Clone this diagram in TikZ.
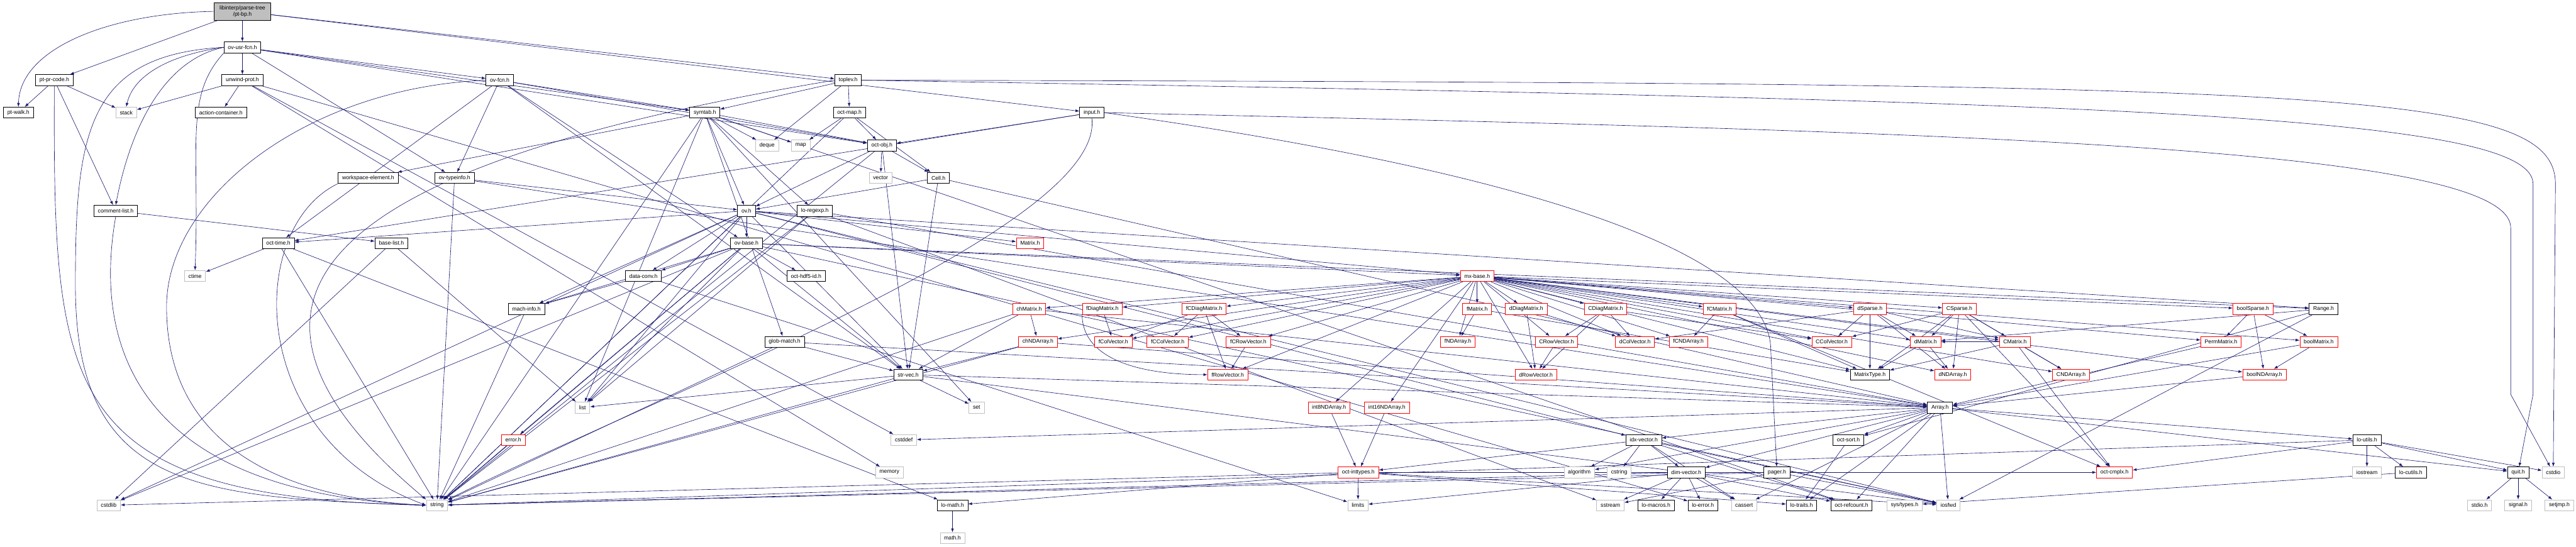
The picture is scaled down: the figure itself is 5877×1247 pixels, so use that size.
\documentclass[tikz,border=0pt]{standalone}
\usepackage{fontspec}
\setmainfont{Liberation Sans}
\usetikzlibrary{arrows.meta}
\pgfdeclarelayer{edges}
\pgfsetlayers{edges,main}
\definecolor{edgeblue}{HTML}{191970}
\definecolor{sysgray}{HTML}{BFBFBF}

\begin{document}
\begin{tikzpicture}[x=1pt, y=-1pt,
    every node/.style={font=\fontsize{12.5}{14.5}\selectfont},
    box/.style={
        draw=black,
        fill=white,
        line width=1.1pt,
        minimum height=25pt,
        inner xsep=9pt,
        inner ysep=2pt
    },
    sysbox/.style={box, draw=sysgray},
    redbox/.style={box, draw=red},
    rootbox/.style={box, fill=sysgray, align=center, minimum height=40pt, minimum width=130pt},
    arrow/.style={-{Latex[length=9pt,width=6.5pt]}, draw=edgeblue, line width=0.9pt}
]

\useasboundingbox (0,0) rectangle (5877,1247);

% rank 0-2
\node[rootbox] (ptbp) at (553,26) {libinterp/parse-tree\\/pt-bp.h};
\node[box] (ovusrfcn) at (553,108) {ov-usr-fcn.h};
\node[box] (ptprcode) at (124,183) {pt-pr-code.h};
\node[box] (unwindprot) at (553,183) {unwind-prot.h};
\node[box] (ovfcn) at (1140,183) {ov-fcn.h};
\node[box] (toplev) at (1935,183) {toplev.h};

% rank 3-4
\node[box] (ptwalk) at (42,257) {pt-walk.h};
\node[sysbox] (stack) at (288,257) {stack};
\node[box] (actcont) at (504,257) {action-container.h};
\node[box] (symtab) at (1608,257) {symtab.h};
\node[box] (octmap) at (1938,257) {oct-map.h};
\node[box] (input) at (2491,257) {input.h};
\node[sysbox] (deque) at (1750,332) {deque};
\node[sysbox] (map) at (1827,332) {map};
\node[box] (octobj) at (2012,332) {oct-obj.h};

% rank 5-8
\node[box] (wselem) at (840,406) {workspace-element.h};
\node[box] (ovtypeinfo) at (1037,406) {ov-typeinfo.h};
\node[sysbox] (vector) at (2009,406) {vector};
\node[box] (cell) at (2141,406) {Cell.h};
\node[box] (cmtlist) at (264,481) {comment-list.h};
\node[box] (ovh) at (1703,481) {ov.h};
\node[box] (loregexp) at (1859,481) {lo-regexp.h};
\node[box] (octtime) at (635,555) {oct-time.h};
\node[box] (baselist) at (893,555) {base-list.h};
\node[box] (ovbase) at (1703,555) {ov-base.h};
\node[redbox] (matrix) at (2350,555) {Matrix.h};
\node[sysbox] (ctime) at (445,630) {ctime};
\node[box] (dataconv) at (1468,630) {data-conv.h};
\node[box] (octhdf) at (1839,630) {oct-hdf5-id.h};
\node[redbox] (mxbase) at (3370,630) {mx-base.h};

% rank 9
\node[box] (machinfo) at (1201,705) {mach-info.h};
\node[redbox] (chmatrix) at (2348,705) {chMatrix.h};
\node[redbox] (fdiag) at (2515,705) {fDiagMatrix.h};
\node[redbox] (fcdiag) at (2747,705) {fCDiagMatrix.h};
\node[redbox] (fmatrix) at (3370,705) {fMatrix.h};
\node[redbox] (ddiag) at (3482,705) {dDiagMatrix.h};
\node[redbox] (cdiag) at (3663,705) {CDiagMatrix.h};
\node[redbox] (fcmatrix) at (3923,705) {fCMatrix.h};
\node[redbox] (dsparse) at (4266,705) {dSparse.h};
\node[redbox] (csparse) at (4470,705) {CSparse.h};
\node[redbox] (boolsparse) at (5140,705) {boolSparse.h};
\node[box] (range) at (5301,705) {Range.h};

% rank 10
\node[box] (globmatch) at (1790,780) {glob-match.h};
\node[redbox] (chnd) at (2368,780) {chNDArray.h};
\node[redbox] (fcolvec) at (2540,780) {fColVector.h};
\node[redbox] (fccolvec) at (2664,780) {fCColVector.h};
\node[redbox] (fcrowvec) at (2848,780) {fCRowVector.h};
\node[redbox] (fnd) at (3326,780) {fNDArray.h};
\node[redbox] (crowvec) at (3551,780) {CRowVector.h};
\node[redbox] (dcolvec) at (3730,780) {dColVector.h};
\node[redbox] (fcnd) at (3852,780) {fCNDArray.h};
\node[redbox] (ccolvec) at (4179,780) {CColVector.h};
\node[redbox] (dmatrix) at (4393,780) {dMatrix.h};
\node[redbox] (cmatrix) at (4597,780) {CMatrix.h};
\node[redbox] (permmat) at (5067,780) {PermMatrix.h};
\node[redbox] (boolmat) at (5290,780) {boolMatrix.h};

% rank 11
\node[box] (strvec) at (2072,855) {str-vec.h};
\node[redbox] (frowvec) at (2801,855) {fRowVector.h};
\node[redbox] (drowvec) at (3504,855) {dRowVector.h};
\node[box] (mattype) at (4266,855) {MatrixType.h};
\node[redbox] (dnd) at (4455,855) {dNDArray.h};
\node[redbox] (cnd) at (4725,855) {CNDArray.h};
\node[redbox] (boolnd) at (5166,855) {boolNDArray.h};

% rank 12
\node[sysbox] (list) at (1329,930) {list};
\node[sysbox] (set) at (2228,930) {set};
\node[redbox] (int8nd) at (3032,930) {int8NDArray.h};
\node[redbox] (int16nd) at (3164,930) {int16NDArray.h};
\node[box] (array) at (4426,930) {Array.h};

% rank 13
\node[redbox] (error) at (1171,1004) {error.h};
\node[sysbox] (cstddef) at (2062,1004) {cstddef};
\node[box] (idxvec) at (3750,1004) {idx-vector.h};
\node[box] (octsort) at (4217,1004) {oct-sort.h};
\node[box] (loutils) at (5400,1004) {lo-utils.h};

% rank 14
\node[sysbox] (memory) at (2029,1078) {memory};
\node[redbox] (inttypes) at (3099,1078) {oct-inttypes.h};
\node[sysbox] (algorithm) at (3603,1078) {algorithm};
\node[sysbox] (cstring) at (3694,1078) {cstring};
\node[box] (dimvec) at (3847,1078) {dim-vector.h};
\node[box] (pager) at (4054,1078) {pager.h};
\node[redbox] (octcmplx) at (4824,1078) {oct-cmplx.h};
\node[sysbox] (iostream) at (5400,1078) {iostream};
\node[box] (locutils) at (5500,1078) {lo-cutils.h};
\node[box] (quit) at (5745,1078) {quit.h};
\node[sysbox] (cstdio) at (5825,1078) {cstdio};

% rank 15-16
\node[sysbox] (cstdlib) at (248,1153) {cstdlib};
\node[sysbox] (string) at (997,1153) {string};
\node[box] (lomath) at (2173,1153) {lo-math.h};
\node[sysbox] (limits) at (3098,1153) {limits};
\node[sysbox] (sstream) at (3674,1153) {sstream};
\node[box] (lomacros) at (3778,1153) {lo-macros.h};
\node[box] (loerror) at (3885,1153) {lo-error.h};
\node[sysbox] (cassert) at (3979,1153) {cassert};
\node[box] (lotraits) at (4110,1153) {lo-traits.h};
\node[box] (refcount) at (4224,1153) {oct-refcount.h};
\node[sysbox] (systypes) at (4345,1153) {sys/types.h};
\node[sysbox] (iosfwd) at (4445,1153) {iosfwd};
\node[sysbox] (stdioh) at (5657,1153) {stdio.h};
\node[sysbox] (signalh) at (5745,1153) {signal.h};
\node[sysbox] (setjmph) at (5839,1153) {setjmp.h};
\node[sysbox] (mathh) at (2173,1228) {math.h};

\begin{pgfonlayer}{edges}
% parse tree headers
\draw[arrow] (ptbp.west) .. controls (250,30) and (45,110) .. (ptwalk.north);
\foreach \t in {ptprcode,ovusrfcn,toplev,input} \draw[arrow] (ptbp) -- (\t);
\foreach \t in {ptwalk,stack,cmtlist} \draw[arrow] (ptprcode) -- (\t);
\draw[arrow] (ptprcode.south) .. controls (121,900) and (140,1135) .. (string.west);

% ov-usr-fcn.h
\draw[arrow] (ovusrfcn) -- (unwindprot);
\draw[arrow] (ovusrfcn.west) .. controls (390,125) and (305,170) .. (stack.north);
\draw[arrow] (ovusrfcn.west) .. controls (380,135) and (300,280) .. (cmtlist.north);
\draw[arrow] (ovusrfcn.west) .. controls (200,125) and (172,300) .. (172,650) .. controls (172,1120) and (450,1135) .. (string.west);
\draw[arrow] (ovusrfcn.south west) .. controls (420,220) and (456,330) .. (ctime.north);
\foreach \t in {ovfcn,ovtypeinfo,symtab,octobj} \draw[arrow] (ovusrfcn) -- (\t);

\foreach \t in {stack,actcont,cstddef,memory,loerror} \draw[arrow] (unwindprot) -- (\t);
\draw[arrow] (cmtlist) -- (baselist);
\draw[arrow] (cmtlist.south) .. controls (228,700) and (228,1120) .. (string.west);
\draw[arrow] (wselem.south west) .. controls (560,520) and (560,1000) .. (string.west);
\foreach \t in {ctime,string,lomath} \draw[arrow] (octtime) -- (\t);
\foreach \t in {list,cstdlib} \draw[arrow] (baselist) -- (\t);

% ov-fcn.h, toplev.h, input.h
\foreach \t in {symtab,ovtypeinfo,ovbase,octtime,strvec,octobj} \draw[arrow] (ovfcn) -- (\t);
\draw[arrow] (ovfcn.west) .. controls (700,200) and (380,450) .. (380,700) .. controls (380,1050) and (700,1140) .. (string.west);
\foreach \t in {symtab,deque,octmap} \draw[arrow] (toplev) -- (\t);
\draw[arrow] (toplev.west) .. controls (900,350) and (350,620) .. (string.north west);
\draw[arrow] (toplev.east) .. controls (5300,190) and (5830,200) .. (5830,420) -- (cstdio);
\draw[arrow] (toplev.east) .. controls (4800,230) and (5779,260) .. (5779,420) -- (5779,900) -- (quit);
\foreach \t in {octobj,octtime} \draw[arrow] (input) -- (\t);
\draw[arrow] (input.east) .. controls (4400,300) and (5728,330) .. (5728,520) -- (5728,900) -- (cstdio);
\draw[arrow] (input.east) .. controls (3400,380) and (4040,560) .. (4040,800) -- (pager);
\draw[arrow] (input.south) .. controls (2521,520) and (1500,900) .. (string.north east);

% symbol table and octave values
\foreach \t in {map,octobj,cell,string} \draw[arrow] (octmap) -- (\t);
\foreach \t in {vector,cell,ovh,strvec,string} \draw[arrow] (octobj) -- (\t);
\foreach \t in {strvec,ovh,array} \draw[arrow] (cell) -- (\t);
\foreach \t in {ovh,array,string} \draw[arrow] (ovtypeinfo) -- (\t);
\foreach \t in {deque,map,list,set,string,globmatch,loregexp,octobj,ovh,refcount,wselem} \draw[arrow] (symtab) -- (\t);
\foreach \t in {ovbase,dataconv,machinfo,list,string,cstdlib,iosfwd,range,idxvec,mxbase,octtime,strvec,matrix} \draw[arrow] (ovh) -- (\t);
\foreach \t in {octhdf,dataconv,machinfo,list,string,cstdlib,iosfwd,mxbase,strvec,error,range} \draw[arrow] (ovbase) -- (\t);
\foreach \t in {list,string,sstream,array} \draw[arrow] (loregexp) -- (\t);
\foreach \t in {machinfo,limits} \draw[arrow] (dataconv) -- (\t);
\draw[arrow] (machinfo) -- (string);
\foreach \t in {string,array,strvec} \draw[arrow] (globmatch) -- (\t);
\draw[arrow] (error) -- (string);

% liboctave matrices
\foreach \t in {chmatrix,fdiag,fcdiag,chnd,fcolvec,fccolvec,fcrowvec,frowvec,fmatrix,ddiag,cdiag,fcmatrix,fnd,crowvec,dcolvec,fcnd,drowvec,int8nd,int16nd,dsparse,csparse,ccolvec,dmatrix,cmatrix,mattype,dnd,cnd,boolsparse,permmat,boolmat,boolnd} \draw[arrow] (mxbase) -- (\t);
\foreach \t in {chnd,strvec,string,array} \draw[arrow] (chmatrix) -- (\t);
\foreach \t in {strvec,string,array} \draw[arrow] (chnd) -- (\t);
\draw[arrow] (fdiag) -- (fcolvec);
\draw[arrow] (fdiag.south west) .. controls (2470,820) and (2600,855) .. (frowvec.west);
\foreach \t in {fcolvec,fccolvec,fcrowvec,frowvec} \draw[arrow] (fcdiag) -- (\t);
\draw[arrow] (fcrowvec) -- (frowvec);
\foreach \t in {set,string,array,iosfwd,list} \draw[arrow] (strvec) -- (\t);
\foreach \t in {fnd,mattype} \draw[arrow] (fmatrix) -- (\t);
\foreach \t in {drowvec,dcolvec} \draw[arrow] (ddiag) -- (\t);
\foreach \t in {crowvec,dcolvec,drowvec,ccolvec} \draw[arrow] (cdiag) -- (\t);
\foreach \t in {fcnd,mattype,octcmplx} \draw[arrow] (fcmatrix) -- (\t);
\draw[arrow] (crowvec) -- (drowvec);
\draw[arrow] (int8nd) -- (inttypes);
\draw[arrow] (int16nd) -- (inttypes);
\foreach \t in {ccolvec,mattype,dmatrix,dnd,cmatrix,dcolvec} \draw[arrow] (dsparse) -- (\t);
\foreach \t in {ccolvec,dmatrix,cmatrix,mattype,dnd,cnd,octcmplx} \draw[arrow] (csparse) -- (\t);
\foreach \t in {mattype,dnd} \draw[arrow] (dmatrix) -- (\t);
\foreach \t in {dmatrix,mattype,cnd,octcmplx} \draw[arrow] (cmatrix) -- (\t);
\foreach \t in {permmat,boolnd,boolmat} \draw[arrow] (boolsparse) -- (\t);
\foreach \t in {iosfwd,dmatrix,octsort} \draw[arrow] (range) -- (\t);
\draw[arrow] (permmat) -- (array);
\foreach \t in {boolnd,array} \draw[arrow] (boolmat) -- (\t);
\draw[arrow] (boolnd) -- (array);

% Array.h and below
\foreach \t in {octsort,cassert,lotraits,refcount,iosfwd,cstddef,algorithm,idxvec,dimvec,quit,loutils} \draw[arrow] (array) -- (\t);
\foreach \t in {inttypes,algorithm,cstring,dimvec,cassert,refcount,iosfwd} \draw[arrow] (idxvec) -- (\t);
\foreach \t in {cstdlib,limits,iosfwd,lotraits,lomath,octcmplx} \draw[arrow] (inttypes) -- (\t);
\foreach \t in {limits,string,cassert,refcount,sstream,lomacros,loerror} \draw[arrow] (dimvec) -- (\t);
\draw[arrow] (lomath) -- (mathh);
\draw[arrow] (octsort) -- (lotraits);
\foreach \t in {iosfwd,sstream,string} \draw[arrow] (pager) -- (\t);
\foreach \t in {iostream,locutils,quit,cstdio,string,octcmplx} \draw[arrow] (loutils) -- (\t);
\draw[arrow] (locutils) -- (systypes);
\foreach \t in {stdioh,signalh,setjmph} \draw[arrow] (quit) -- (\t);
\end{pgfonlayer}

\end{tikzpicture}
\end{document}
